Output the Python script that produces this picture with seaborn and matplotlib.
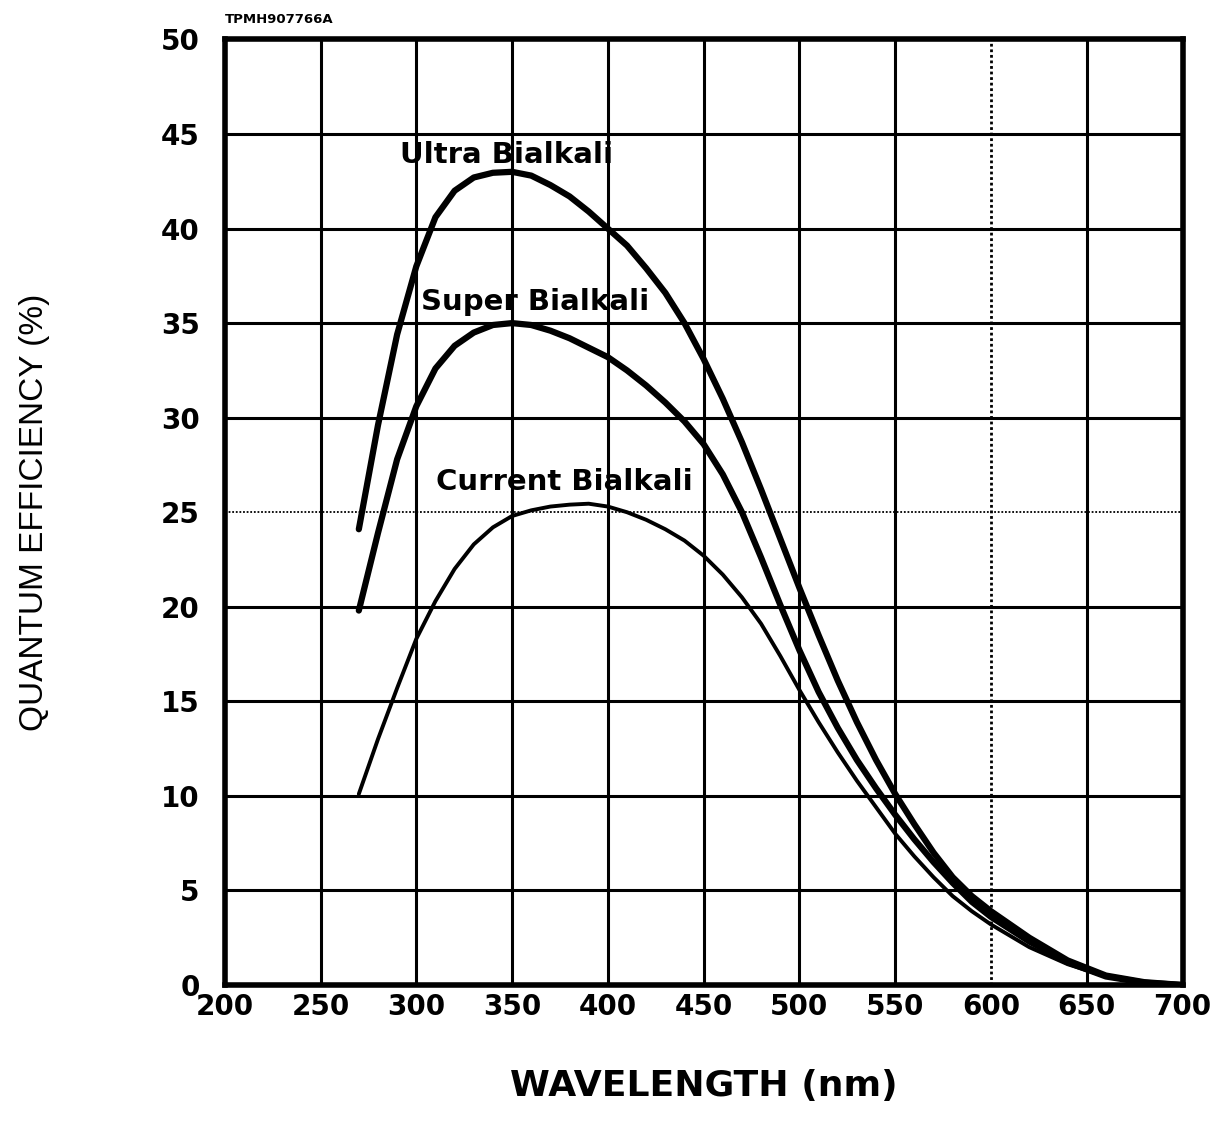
import pandas as pd
import matplotlib
matplotlib.use("Agg")
import matplotlib.pyplot as plt
import seaborn as sns

# wavelength grid (nm) and read-off quantum efficiency (%)
wavelength = [270, 280, 290, 300, 310, 320, 330, 340, 350, 360, 370, 380, 390, 400,
              410, 420, 430, 440, 450, 460, 470, 480, 490, 500, 510, 520, 530, 540,
              550, 560, 570, 580, 590, 600, 620, 640, 660, 680, 700]

ultra = [24.1, 29.6, 34.4, 38.0, 40.6, 42.0, 42.7, 42.95, 43.0, 42.8, 42.3, 41.7, 40.9, 40.0,
         39.1, 37.9, 36.6, 35.0, 33.1, 31.0, 28.7, 26.2, 23.6, 21.0, 18.5, 16.1, 13.9, 11.9,
         10.1, 8.5, 7.0, 5.7, 4.7, 3.9, 2.5, 1.3, 0.5, 0.15, 0.0]

super_ = [19.8, 23.9, 27.8, 30.6, 32.6, 33.8, 34.5, 34.9, 35.0, 34.9, 34.6, 34.2, 33.7, 33.2,
          32.5, 31.7, 30.8, 29.8, 28.6, 27.0, 25.0, 22.6, 20.1, 17.7, 15.5, 13.6, 11.9, 10.4,
          9.0, 7.7, 6.5, 5.4, 4.4, 3.6, 2.3, 1.2, 0.45, 0.12, 0.0]

current = [10.1, 13.0, 15.7, 18.3, 20.3, 22.0, 23.3, 24.2, 24.8, 25.1, 25.3, 25.4, 25.45, 25.3,
           25.0, 24.6, 24.1, 23.5, 22.7, 21.7, 20.5, 19.1, 17.4, 15.6, 13.9, 12.3, 10.8, 9.4,
           8.0, 6.8, 5.7, 4.7, 3.9, 3.2, 2.0, 1.1, 0.45, 0.12, 0.0]

x_ticks = list(range(200, 701, 50))
y_ticks = list(range(0, 51, 5))

df = pd.DataFrame({"wl": wavelength, "Ultra": ultra, "Super": super_, "Current": current})

sns.set_style("white")
plt.rcParams['font.family'] = ['DejaVu Sans']
plt.rcParams['text.color'] = 'black'
plt.rcParams['axes.labelcolor'] = 'black'
plt.rcParams['xtick.color'] = 'black'
plt.rcParams['ytick.color'] = 'black'

fig = plt.figure(figsize=(12.28, 11.27), dpi=100)
ax = fig.add_axes([0.183, 0.126, 0.780, 0.839])

sns.lineplot(data=df, x="wl", y="Ultra", ax=ax, color="black", linewidth=4.5)
sns.lineplot(data=df, x="wl", y="Super", ax=ax, color="black", linewidth=4.5)
sns.lineplot(data=df, x="wl", y="Current", ax=ax, color="black", linewidth=2.8)

ax.set_xlim(200, 700)
ax.set_ylim(0, 50)
ax.set_xticks(x_ticks)
ax.set_yticks(y_ticks)
ax.set_xticklabels([str(t) for t in x_ticks], fontsize=20, fontweight="bold")
ax.set_yticklabels([str(t) for t in y_ticks], fontsize=20, fontweight="bold")
ax.tick_params(axis="both", length=0)
ax.tick_params(axis="x", pad=6)
ax.tick_params(axis="y", pad=18)

ax.grid(True, color="black", linewidth=2.2)
ax.set_axisbelow(True)
# dotted reference lines at 25 % and 600 nm
for t, gl in zip(ax.get_yticks(), ax.yaxis.get_gridlines()):
    if t == 25:
        gl.set_linestyle((0, (1, 1)))
        gl.set_linewidth(1.3)
for t, gl in zip(ax.get_xticks(), ax.xaxis.get_gridlines()):
    if t == 600:
        gl.set_linestyle((0, (1, 1)))
        gl.set_linewidth(2.0)

for s in ax.spines.values():
    s.set_visible(True)
    s.set_color("black")
    s.set_linewidth(4)

ax.set_xlabel("WAVELENGTH (nm)", fontsize=26, labelpad=34, fontweight="bold")
ax.set_ylabel("QUANTUM EFFICIENCY (%)", fontsize=24, labelpad=80,
              family=['Liberation Sans Narrow', 'Liberation Sans', 'DejaVu Sans'])

ax.text(347, 43.9, "Ultra Bialkali", fontsize=21, fontweight="bold", ha="center", va="center")
ax.text(362, 36.1, "Super Bialkali", fontsize=21, fontweight="bold", ha="center", va="center")
ax.text(377.5, 26.6, "Current Bialkali", fontsize=21, fontweight="bold", ha="center", va="center")
ax.text(200, 50.7, "TPMH907766A", fontsize=9.5, fontweight="bold", ha="left", va="bottom")

fig.savefig("out.png", dpi=100)
